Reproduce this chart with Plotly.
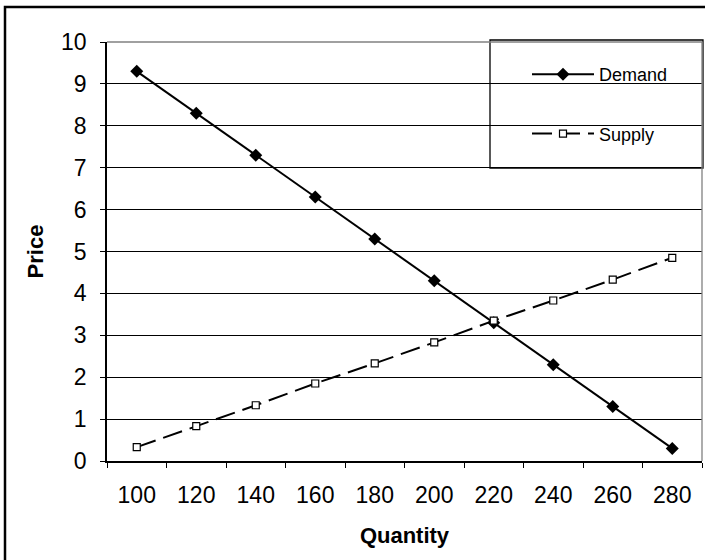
import plotly.graph_objects as go

quantity = ["100", "120", "140", "160", "180", "200", "220", "240", "260", "280"]
demand = [9.3, 8.3, 7.3, 6.3, 5.3, 4.3, 3.3, 2.3, 1.3, 0.3]
supply = [0.33, 0.83, 1.33, 1.85, 2.33, 2.83, 3.35, 3.83, 4.33, 4.85]

W, H = 705, 560
ML, MR, MT, MB = 107, 3, 42, 99
PW, PH = W - ML - MR, H - MT - MB

def px(x):
    return (x - ML) / PW

def py(y):
    return 1 - (y - MT) / PH

FONT = "Arial, Liberation Sans, sans-serif"

fig = go.Figure()
fig.add_trace(go.Scatter(
    x=quantity, y=demand, name="Demand", mode="lines+markers",
    line=dict(color="black", width=2),
    marker=dict(symbol="diamond", size=10, color="black"),
    legendgroup="d",
))
fig.add_trace(go.Scatter(
    x=quantity, y=supply, name="Supply", mode="lines+markers",
    line=dict(color="black", width=2, dash="20px,8px"),
    marker=dict(symbol="square", size=7, color="white", line=dict(color="black", width=1.2)),
    legendgroup="s",
))

fig.update_layout(
    width=W, height=H,
    margin=dict(l=ML, r=MR, t=MT, b=MB, autoexpand=False),
    paper_bgcolor="white", plot_bgcolor="white",
    font=dict(family=FONT, color="black"),
    showlegend=True,
    legend=dict(
        x=px(527), y=py(56), xanchor="left", yanchor="top",
        bgcolor="rgba(0,0,0,0)", borderwidth=0,
        font=dict(size=18, family=FONT),
        itemwidth=62, tracegroupgap=33, traceorder="grouped",
    ),
    xaxis=dict(
        type="category", range=[-0.5, len(quantity) - 0.5],
        tickson="boundaries", ticks="outside", ticklen=5,
        tickcolor="black", tickwidth=1.3, automargin=False,
        showgrid=False, showline=True, linecolor="black", linewidth=1.5,
        tickfont=dict(size=23), ticklabelstandoff=13,
        title=dict(text="<b>Quantity</b>", font=dict(size=22), standoff=20),
    ),
    yaxis=dict(
        range=[0, 10], dtick=1, ticks="outside", ticklen=5,
        tickcolor="black", tickwidth=1.3, automargin=False,
        showgrid=True, gridcolor="black", gridwidth=1,
        zeroline=False, showline=True, linecolor="black", linewidth=1.5,
        tickfont=dict(size=23), ticklabelstandoff=9,
        title=dict(text="<b>Price</b>", font=dict(size=22), standoff=11),
    ),
    shapes=[
        # plot area right edge / top edge (gray)
        dict(type="line", xref="paper", yref="paper", x0=1, x1=1, y0=0, y1=1,
             line=dict(color="#808080", width=1.3)),
        dict(type="line", xref="paper", yref="paper", x0=0, x1=1, y0=1, y1=1,
             line=dict(color="#808080", width=1.3)),
        # legend box
        dict(type="rect", xref="paper", yref="paper",
             x0=px(490), x1=px(703), y0=py(168), y1=py(40),
             fillcolor="white", line=dict(color="black", width=1.3), layer="below"),
        # outer chart frame
        dict(type="rect", xref="paper", yref="paper",
             x0=px(5), x1=px(720), y0=py(580), y1=py(7),
             line=dict(color="black", width=2.5), fillcolor="rgba(0,0,0,0)"),
    ],
)

fig.write_html("out.html")
